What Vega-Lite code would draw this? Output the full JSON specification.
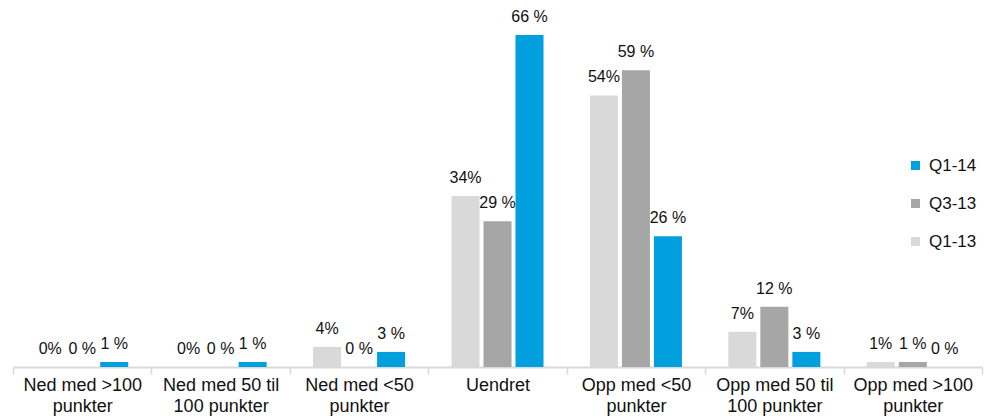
{
  "$schema": "https://vega.github.io/schema/vega-lite/v6.json",
  "width": 969,
  "height": 352,
  "autosize": {"type": "none"},
  "padding": {"left": 13, "top": 15, "right": 11, "bottom": 51},
  "background": "white",
  "config": {
    "view": {"stroke": null},
    "font": "Liberation Sans"
  },
  "data": {
    "values": [
      {"kategori": "Ned med >100|punkter", "periode": "Q1-13", "andel": 0, "etikett": "0%"},
      {"kategori": "Ned med >100|punkter", "periode": "Q3-13", "andel": 0, "etikett": "0 %"},
      {"kategori": "Ned med >100|punkter", "periode": "Q1-14", "andel": 1, "etikett": "1 %"},
      {"kategori": "Ned med 50 til|100 punkter", "periode": "Q1-13", "andel": 0, "etikett": "0%"},
      {"kategori": "Ned med 50 til|100 punkter", "periode": "Q3-13", "andel": 0, "etikett": "0 %"},
      {"kategori": "Ned med 50 til|100 punkter", "periode": "Q1-14", "andel": 1, "etikett": "1 %"},
      {"kategori": "Ned med <50|punkter", "periode": "Q1-13", "andel": 4, "etikett": "4%"},
      {"kategori": "Ned med <50|punkter", "periode": "Q3-13", "andel": 0, "etikett": "0 %"},
      {"kategori": "Ned med <50|punkter", "periode": "Q1-14", "andel": 3, "etikett": "3 %"},
      {"kategori": "Uendret", "periode": "Q1-13", "andel": 34, "etikett": "34%"},
      {"kategori": "Uendret", "periode": "Q3-13", "andel": 29, "etikett": "29 %"},
      {"kategori": "Uendret", "periode": "Q1-14", "andel": 66, "etikett": "66 %"},
      {"kategori": "Opp med <50|punkter", "periode": "Q1-13", "andel": 54, "etikett": "54%"},
      {"kategori": "Opp med <50|punkter", "periode": "Q3-13", "andel": 59, "etikett": "59 %"},
      {"kategori": "Opp med <50|punkter", "periode": "Q1-14", "andel": 26, "etikett": "26 %"},
      {"kategori": "Opp med 50 til|100 punkter", "periode": "Q1-13", "andel": 7, "etikett": "7%"},
      {"kategori": "Opp med 50 til|100 punkter", "periode": "Q3-13", "andel": 12, "etikett": "12 %"},
      {"kategori": "Opp med 50 til|100 punkter", "periode": "Q1-14", "andel": 3, "etikett": "3 %"},
      {"kategori": "Opp med >100|punkter", "periode": "Q1-13", "andel": 1, "etikett": "1%"},
      {"kategori": "Opp med >100|punkter", "periode": "Q3-13", "andel": 1, "etikett": "1 %"},
      {"kategori": "Opp med >100|punkter", "periode": "Q1-14", "andel": 0, "etikett": "0 %"}
    ]
  },
  "encoding": {
    "x": {
      "field": "kategori",
      "type": "nominal",
      "sort": null,
      "scale": {"paddingInner": 0, "paddingOuter": 0},
      "axis": {
        "title": null,
        "labelAngle": 0,
        "labelExpr": "split(datum.label, '|')",
        "labelFont": "Liberation Sans",
        "labelFontSize": 18,
        "labelColor": "#111111",
        "labelLineHeight": 21,
        "labelPadding": 2,
        "labelBaseline": "top",
        "tickBand": "extent",
        "tickSize": 7,
        "tickColor": "#d9d9d9",
        "tickWidth": 1.5,
        "domainColor": "#d9d9d9",
        "domainWidth": 1.8,
        "grid": false
      }
    },
    "xOffset": {
      "field": "periode",
      "type": "nominal",
      "sort": ["Q1-13", "Q3-13", "Q1-14"],
      "scale": {"paddingInner": 0.125, "paddingOuter": 0.725}
    },
    "y": {
      "field": "andel",
      "type": "quantitative",
      "scale": {"domain": [0, 70], "nice": false},
      "axis": null
    }
  },
  "layer": [
    {
      "mark": {"type": "bar"},
      "encoding": {
        "color": {
          "field": "periode",
          "type": "nominal",
          "scale": {
            "domain": ["Q1-14", "Q3-13", "Q1-13"],
            "range": ["#00a0df", "#a6a6a6", "#d9d9d9"]
          },
          "legend": {
            "title": null,
            "orient": "none",
            "legendX": 894,
            "legendY": 142,
            "padding": 0,
            "symbolType": "square",
            "symbolSize": 81,
            "symbolStrokeWidth": 0,
            "labelFont": "Liberation Sans",
            "labelFontSize": 17,
            "labelColor": "#111111",
            "labelOffset": 5,
            "rowPadding": 20
          }
        }
      }
    },
    {
      "mark": {
        "type": "text",
        "baseline": "alphabetic",
        "align": "center",
        "dy": -13,
        "font": "Liberation Sans",
        "fontSize": 16,
        "color": "#111111"
      },
      "encoding": {
        "text": {"field": "etikett"}
      }
    }
  ]
}
